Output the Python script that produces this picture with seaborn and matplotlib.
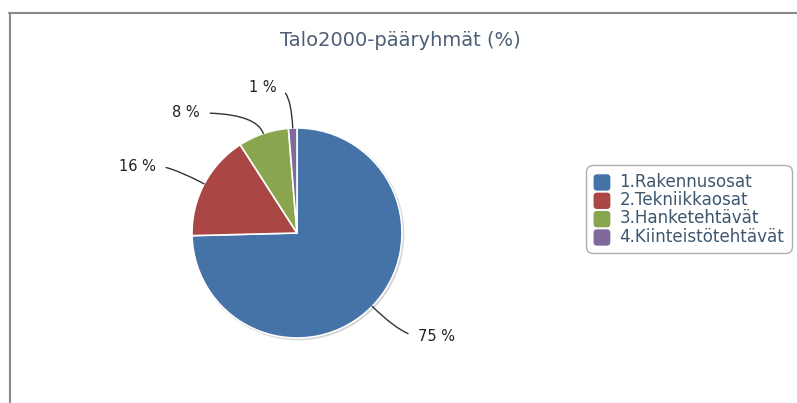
import numpy as np
import matplotlib
matplotlib.use("Agg")
import matplotlib.pyplot as plt
import seaborn as sns
from matplotlib.lines import Line2D
from matplotlib.patches import Patch, FancyBboxPatch, Circle
from matplotlib.legend_handler import HandlerPatch

# Data
categories = ["1.Rakennusosat", "2.Tekniikkaosat", "3.Hanketehtävät", "4.Kiinteistötehtävät"]
shares = [74.6, 16.3, 7.8, 1.3]
colors = ["#4572A7", "#AA4643", "#89A54E", "#80699B"]
chartTitle = "Talo2000-pääryhmät (%)"

W, H = 797, 403


class RoundedHandler(HandlerPatch):
    def create_artists(self, legend, orig_handle, xdescent, ydescent, width, height, fontsize, trans):
        p = FancyBboxPatch((-xdescent, -ydescent - 2.5), width, height + 2.5,
                           boxstyle="round,pad=0,rounding_size=2.5",
                           facecolor=orig_handle.get_facecolor(), edgecolor="none", transform=trans)
        return [p]


def main():
    sns.set_theme(style="white")
    plt.rcParams['font.family'] = ['DejaVu Sans']

    fig = plt.figure(figsize=(W / 100, H / 100), dpi=100)

    # pie axes positioned in pixels: centre (297, 233), radius 105
    cx, cy, R = 297, 233, 105
    span = 2.6
    ax = fig.add_axes([(cx - span * R) / W, (H - cy - span * R) / H,
                       2 * span * R / W, 2 * span * R / H])

    # soft shadow behind the pie
    ax.add_patch(Circle((0.012, -0.012), 1.0, facecolor='#d8d8d8', edgecolor='#c8c8c8',
                        lw=1.5, zorder=0, alpha=0.7))

    wedges, _ = ax.pie(shares, colors=colors, startangle=90, counterclock=False, radius=1,
                       wedgeprops=dict(edgecolor='white', linewidth=1.2))
    ax.set_xlim(-span, span)
    ax.set_ylim(-span, span)
    ax.axis('off')

    # data labels with curved connectors
    labelPos = [(1.152, -0.981, 'left'), (-1.343, 0.638, 'right'),
                (-0.924, 1.143, 'right'), (-0.19, 1.381, 'right')]
    for w, v, (tx, ty, ha) in zip(wedges, shares, labelPos):
        mid = np.deg2rad((w.theta1 + w.theta2) / 2)
        px, py = np.cos(mid), np.sin(mid)
        ax.annotate(f"{round(v)} %", xy=(px, py), xytext=(tx, ty), ha=ha, va='center',
                    fontsize=10.5, color='#222222',
                    arrowprops=dict(arrowstyle='-', color='#333333', lw=1,
                                    connectionstyle=f"angle3,angleA=0,angleB={np.rad2deg(mid):.2f}",
                                    relpos=(0 if ha == 'left' else 1, 0.5),
                                    shrinkA=5, shrinkB=0))

    # title
    fig.text(400 / W, 1 - 40 / H, chartTitle, ha='center', va='center',
             fontsize=14, color='#4d5f75')

    # legend
    handles = [Patch(facecolor=c, label=l) for c, l in zip(colors, categories)]
    leg = fig.legend(handles=handles, loc='upper left', bbox_to_anchor=(586 / W, 1 - 165 / H),
                     fontsize=12.1, frameon=True, fancybox=True, borderaxespad=0,
                     handlelength=1.0, handleheight=0.8, handletextpad=0.55,
                     labelspacing=0.02, borderpad=0.45,
                     handler_map={Patch: RoundedHandler()})
    frame = leg.get_frame()
    frame.set_edgecolor('#9a9a9a')
    frame.set_linewidth(1)
    frame.set_boxstyle("round,pad=0,rounding_size=0.4")
    for t in leg.get_texts():
        t.set_color('#3e576f')

    # outer frame lines
    fig.add_artist(Line2D([8.5 / W, 1], [1 - 12.5 / H, 1 - 12.5 / H], transform=fig.transFigure,
                          color='#8a8a8a', lw=1.5))
    fig.add_artist(Line2D([9.5 / W, 9.5 / W], [0, 1 - 12.5 / H], transform=fig.transFigure,
                          color='#8a8a8a', lw=1.5))

    fig.savefig("out.png", dpi=100)


if __name__ == "__main__":
    main()
